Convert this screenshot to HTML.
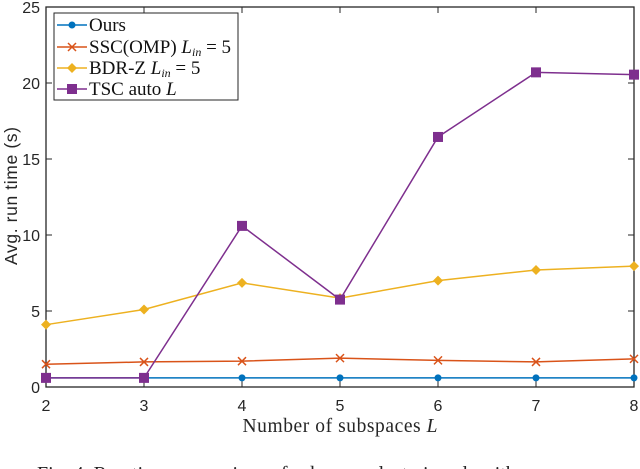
<!DOCTYPE html>
<html><head><meta charset="utf-8"><style>
body{margin:0;background:#fff;}
svg{display:block;}
</style></head><body>
<svg width="640" height="469" viewBox="0 0 640 469">
<g id="axes"></g>
<g id="series"></g>
<g id="legend"></g>
<text x="17" y="196" transform="rotate(-90 17 196)" text-anchor="middle" font-family="Liberation Sans, sans-serif" font-size="17.5" textLength="138" fill="#262626">Avg. run time (s)</text>
<text x="340" y="432" text-anchor="middle" font-family="Liberation Serif, serif" font-size="19.5" textLength="195" fill="#262626">Number of subspaces <tspan font-style="italic">L</tspan></text>
<text x="37" y="480" font-family="Liberation Serif, serif" font-size="20" fill="#222">Fig. 4.   Run time comparison of subspace clustering algorithms on</text>
</svg>
<script>
const categories=[2,3,4,5,6,7,8];
const yTicks=[0,5,10,15,20,25];
const ours=[0.6,0.6,0.6,0.6,0.6,0.6,0.6];
const ssc=[1.5,1.65,1.7,1.9,1.75,1.65,1.85];
const bdr=[4.1,5.1,6.85,5.85,7.0,7.7,7.95];
const tsc=[0.6,0.6,10.6,5.75,16.45,20.7,20.55];
const NS='http://www.w3.org/2000/svg';
const L=46,R=634,T=7,B=387;
const xs=v=>L+(v-2)/6*(R-L);
const ys=v=>B-v/25*(B-T);
function mk(tag,attrs,parent){const e=document.createElementNS(NS,tag);for(const k in attrs)e.setAttribute(k,attrs[k]);parent.appendChild(e);return e;}
const ax=document.getElementById('axes');
let fr=mk('rect',{x:L,y:T,width:R-L,height:B-T,fill:'none',stroke:'#262626','stroke-width':1.3},ax);


categories.forEach(c=>{
 const x=xs(c);
 mk('line',{x1:x,x2:x,y1:B,y2:B-6,stroke:'#262626'},ax);
 mk('line',{x1:x,x2:x,y1:T,y2:T+6,stroke:'#262626'},ax);
 const t=mk('text',{x:x,y:B+24,'text-anchor':'middle','font-family':'Liberation Sans, sans-serif','font-size':16,fill:'#262626'},ax);
 t.textContent=c;
 
 
});
yTicks.forEach(v=>{
 const y=ys(v);
 mk('line',{x1:L,x2:L+6,y1:y,y2:y,stroke:'#262626'},ax);
 mk('line',{x1:R,x2:R-6,y1:y,y2:y,stroke:'#262626'},ax);
 const t=mk('text',{x:L-6,y:y+6,'text-anchor':'end','font-family':'Liberation Sans, sans-serif','font-size':16,fill:'#262626'},ax);
 t.textContent=v;
 
 
});
function marker(g,type,x,y,col){
 if(type==='o')mk('circle',{cx:x,cy:y,r:3.5,fill:col},g);
 else if(type==='x'){mk('path',{d:`M${x-4} ${y-4}L${x+4} ${y+4}M${x-4} ${y+4}L${x+4} ${y-4}`,stroke:col,'stroke-width':1.5},g);}
 else if(type==='d')mk('path',{d:`M${x} ${y-5}L${x+5} ${y}L${x} ${y+5}L${x-5} ${y}Z`,fill:col},g);
 else mk('rect',{x:x-5,y:y-5,width:10,height:10,fill:col},g);
}
const sg=document.getElementById('series');
const defs=[['series-ours',ours,'#0072BD','o'],['series-ssc',ssc,'#D95319','x'],['series-bdr',bdr,'#EDB120','d'],['series-tsc',tsc,'#7E2F8E','s']];
defs.forEach(([name,data,col,m])=>{
 const g=mk('g',{},sg);
 
 
 mk('polyline',{points:data.map((v,i)=>xs(categories[i])+','+ys(v)).join(' '),fill:'none',stroke:col,'stroke-width':1.5},g);
 data.forEach((v,i)=>marker(g,m,xs(categories[i]),ys(v),col));
});
const lg=document.getElementById('legend');
let lb=mk('rect',{x:54,y:13,width:184,height:87,fill:'#fff',stroke:'#262626','stroke-width':1},lg);


const labels=['Ours','SSC(OMP) <tspan font-style="italic">L<tspan font-size="12" dy="3">in</tspan></tspan><tspan dy="-3"> = 5</tspan>','BDR-Z <tspan font-style="italic">L<tspan font-size="12" dy="3">in</tspan></tspan><tspan dy="-3"> = 5</tspan>','TSC auto <tspan font-style="italic">L</tspan>'];
const ly=[25,47,68,89];
defs.forEach(([name,data,col,m],i)=>{
 const g=mk('g',{},lg);
 
 
 mk('line',{x1:57,x2:87,y1:ly[i],y2:ly[i],stroke:col,'stroke-width':1.5},g);
 marker(g,m,72,ly[i],col);
 const t=mk('text',{x:89,y:ly[i]+6,'font-family':'Liberation Serif, serif','font-size':19,fill:'#111'},g);
 t.innerHTML=labels[i];
});
</script>
</body></html>
